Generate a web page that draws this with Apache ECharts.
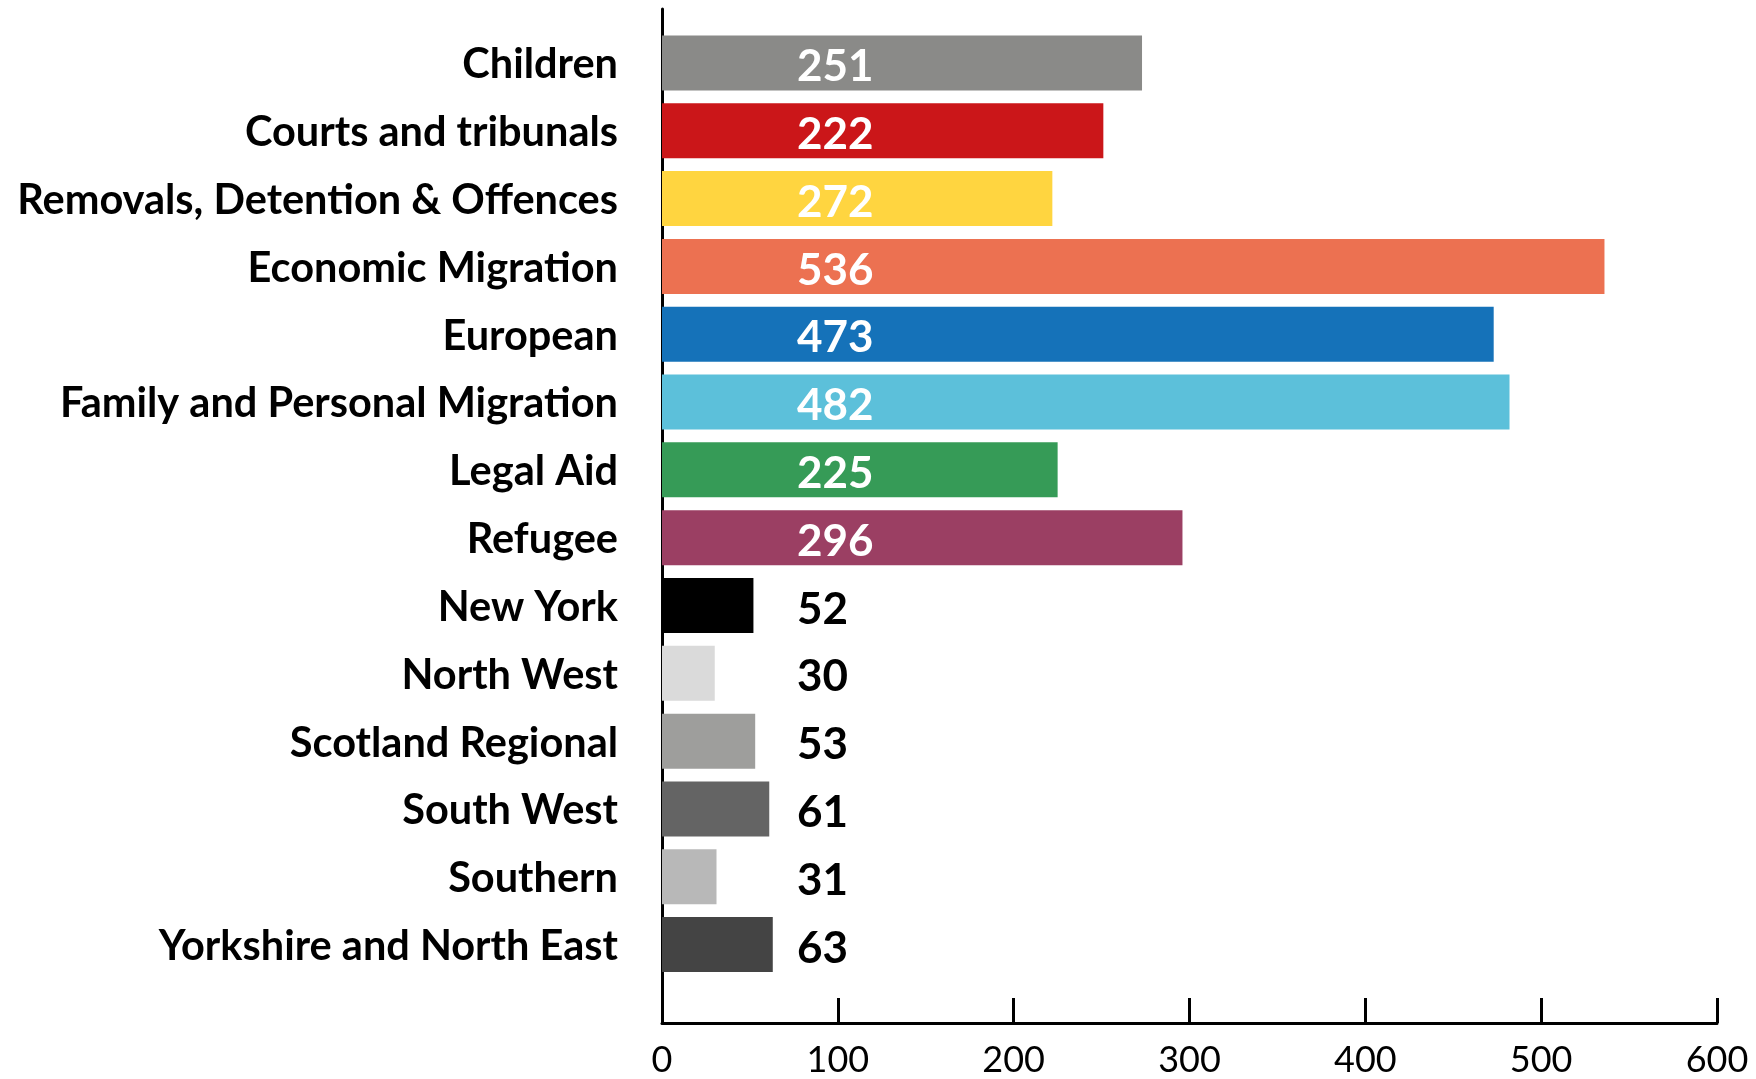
<!DOCTYPE html>
<html>
<head>
<meta charset="utf-8">
<script src="https://cdn.jsdelivr.net/npm/echarts@6/dist/echarts.min.js"></script>
<style>
html,body{margin:0;padding:0;background:#fff;}
#chart{width:1756px;height:1079px;}
</style>
</head>
<body>
<div id="chart"></div>
<script>
const categories = ["Children","Courts and tribunals","Removals, Detention & Offences","Economic Migration","European","Family and Personal Migration","Legal Aid","Refugee","New York","North West","Scotland Regional","South West","Southern","Yorkshire and North East"];
const barValues = [273, 251, 222, 536, 473, 482, 225, 296, 52, 30, 53, 61, 31, 63];
const labelValues = [251, 222, 272, 536, 473, 482, 225, 296, 52, 30, 53, 61, 31, 63];
const barColors = ["#8a8a88","#cb1619","#ffd540","#ec7151","#1572b9","#5cc0da","#369b57","#9b3f63","#000000","#dadada","#9e9e9c","#646464","#b8b8b8","#444444"];
const labelColors = ["#ffffff","#ffffff","#ffffff","#ffffff","#ffffff","#ffffff","#ffffff","#ffffff","#000000","#000000","#000000","#000000","#000000","#000000"];
const xTicks = [0, 100, 200, 300, 400, 500, 600];

const chart = echarts.init(document.getElementById('chart'), null, {renderer:'canvas'});
const option = {
  animation: false,
  backgroundColor: '#ffffff',
  grid: [
    {left: 662, right: 39, top: 29, height: 949.5, containLabel: false},
    {left: 662, right: 39, top: 9, bottom: 56, containLabel: false}
  ],
  xAxis: [
    {gridIndex: 0, type: 'value', min: xTicks[0], max: xTicks[xTicks.length-1], interval: 100,
     axisLine:{show:false}, axisTick:{show:false}, axisLabel:{show:false}, splitLine:{show:false}},
    {gridIndex: 1, type: 'value', min: xTicks[0], max: xTicks[xTicks.length-1], interval: 100,
     axisLine:{show:true, lineStyle:{color:'#000', width:3}},
     axisTick:{show:true, inside:true, length:25, lineStyle:{color:'#000', width:3}},
     axisLabel:{show:true, color:'#000', fontFamily:'Lato', fontSize:36, margin:19},
     splitLine:{show:false}}
  ],
  yAxis: [
    {gridIndex: 0, type: 'category', data: categories, inverse: true,
     axisLine:{show:false}, axisTick:{show:false},
     axisLabel:{show:true, margin:44,
       formatter: v => '{c|' + v + '}',
       rich: {c: {color:'#000', fontFamily:'Lato', fontWeight:'bold', fontSize:41.5, padding:[4,0,0,0]}}}},
    {gridIndex: 1, type: 'value', min: 0, max: 1,
     axisLine:{show:true, lineStyle:{color:'#000', width:3}},
     axisTick:{show:false}, axisLabel:{show:false}, splitLine:{show:false}}
  ],
  series: [{
    type: 'bar',
    xAxisIndex: 0, yAxisIndex: 0,
    barWidth: 55,
    data: barValues.map((v, i) => ({
      value: v,
      itemStyle: {color: barColors[i]},
      label: {color: labelColors[i]}
    })),
    label: {
      show: true,
      position: [135, '50%'],
      offset: [0, 4],
      align: 'left',
      verticalAlign: 'middle',
      fontFamily: 'Lato',
      fontWeight: 'bold',
      fontSize: 44,
      formatter: p => String(labelValues[p.dataIndex])
    }
  }]
};
chart.setOption(option);
</script>
</body>
</html>
